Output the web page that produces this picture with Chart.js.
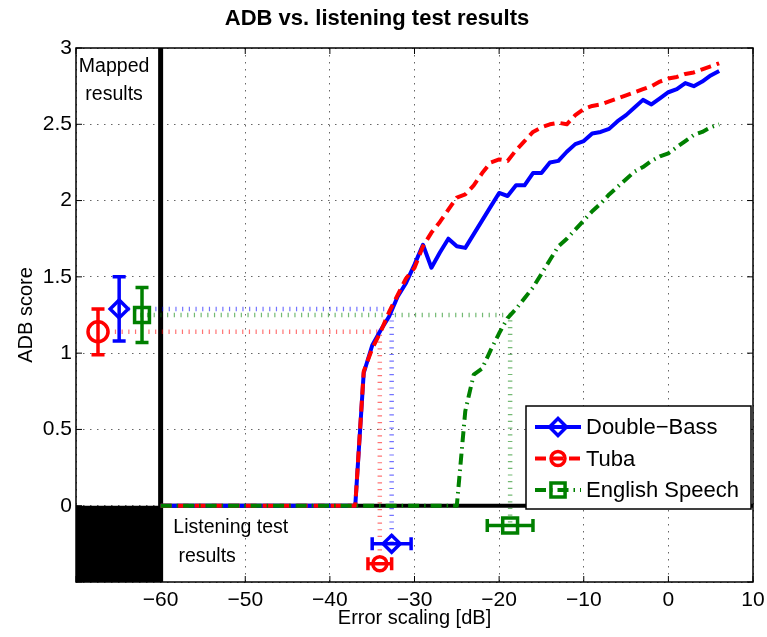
<!DOCTYPE html>
<html>
<head>
<meta charset="utf-8">
<script src="https://cdn.jsdelivr.net/npm/chart.js@4/dist/chart.umd.min.js"></script>
<style>
  body { margin: 0; background: #fff; }
  canvas { display: block; }
</style>
</head>
<body>
<canvas id="myChart" width="767" height="637"></canvas>
<script>
const FONT = '"Liberation Sans", Arial, Helvetica, sans-serif';

// error scaling grid (dB) for double-bass and tuba curves
const curveDb = [-60, -37, -36, -35, -34, -33, -32, -31, -30, -29, -28, -27, -26, -25, -24, -23, -22, -21, -20,
    -19, -18, -17, -16, -15, -14, -13, -12, -11, -10, -9, -8, -7, -6, -5, -4, -3, -2, -1, 0, 1, 2, 3, 4, 5, 6];
const doubleBass = [0, 0, 0.87, 1.05, 1.15, 1.24, 1.37, 1.46, 1.58, 1.71, 1.56, 1.66, 1.75, 1.70, 1.69, 1.78, 1.87, 1.96, 2.05,
    2.03, 2.10, 2.10, 2.18, 2.18, 2.25, 2.26, 2.32, 2.37, 2.39, 2.44, 2.45, 2.47, 2.52, 2.56, 2.61, 2.66, 2.63, 2.67, 2.71, 2.73, 2.77, 2.75, 2.78, 2.82, 2.85];
const tuba = [0, 0, 0.88, 1.03, 1.14, 1.27, 1.38, 1.49, 1.56, 1.70, 1.79, 1.86, 1.94, 2.02, 2.04, 2.10, 2.18, 2.25, 2.27,
    2.26, 2.33, 2.39, 2.45, 2.48, 2.50, 2.51, 2.50, 2.56, 2.60, 2.62, 2.63, 2.65, 2.67, 2.69, 2.71, 2.73, 2.75, 2.78, 2.80, 2.81, 2.83, 2.84, 2.86, 2.88, 2.90];

const speechDb = [-60, -25, -24, -23, -22, -21, -20, -19, -18, -17, -16, -15, -14, -13, -12, -11, -10, -9, -8, -7, -6, -5,
    -4, -3, -2, -1, 0, 1, 2, 3, 4, 5, 6];
const speech = [0, 0, 0.62, 0.86, 0.90, 1.02, 1.13, 1.23, 1.29, 1.36, 1.43, 1.52, 1.61, 1.70, 1.75, 1.81, 1.87, 1.93, 1.98, 2.04, 2.09, 2.14,
    2.19, 2.22, 2.26, 2.29, 2.31, 2.35, 2.39, 2.43, 2.45, 2.48, 2.50];

// order: Double-Bass, Tuba, English Speech
const seriesNames = ['Double\u2212Bass', 'Tuba', 'English Speech'];
const mappedX = [-64.9, -67.4, -62.2];
const mappedMean = [1.29, 1.14, 1.25];
const mappedErr = [0.21, 0.15, 0.18];
const listenX = [-32.7, -34.1, -18.7];
const listenErr = [2.3, 1.4, 2.7];
const listenY = [-0.25, -0.38, -0.13];
const connectFrom = [-63.8, -66.2, -63.2];

const xTicks = [-70, -60, -50, -40, -30, -20, -10, 0, 10];
const yTicks = [-0.5, 0, 0.5, 1, 1.5, 2, 2.5, 3];

const colors = ['#0000ff', '#ff0000', '#008000'];
const faded = ['rgba(0,0,255,0.55)', 'rgba(255,0,0,0.55)', 'rgba(0,128,0,0.55)'];
const dashes = [[], [11, 6], [11, 5, 1.5, 5]];
const markerStyle = ['rectRot', 'circle', 'rect'];
const mappedRadius = [9, 10, 10.5];
const listenRadius = [8.5, 7, 10.5];

const pts = (xs, ys) => xs.map((v, i) => ({ x: v, y: ys[i] }));

const datasets = [];
const curves = [doubleBass, tuba, speech];
const curveXs = [curveDb, curveDb, speechDb];

// markers on top
for (let i = 0; i < 3; i++) {
    datasets.push({
        data: [{ x: mappedX[i], y: mappedMean[i] }, { x: listenX[i], y: listenY[i] }],
        showLine: false,
        pointStyle: markerStyle[i],
        pointRadius: [mappedRadius[i], listenRadius[i]],
        borderColor: colors[i],
        backgroundColor: 'rgba(0,0,0,0)',
        pointBorderWidth: 3.5,
        order: 0
    });
}
for (let i = 0; i < 3; i++) {
    datasets.push({
        data: pts(curveXs[i], curves[i]),
        borderColor: colors[i],
        borderWidth: 4,
        borderDash: dashes[i],
        borderJoinStyle: 'round',
        pointRadius: 0,
        order: 3 - i
    });
}
for (let i = 0; i < 3; i++) {
    datasets.push({
        data: [{ x: connectFrom[i], y: mappedMean[i] }, { x: listenX[i], y: mappedMean[i] }, { x: listenX[i], y: listenY[i] }],
        borderColor: faded[i],
        borderWidth: 4.5,
        borderDash: [1.2, 5.5],
        pointRadius: 0,
        order: 4
    });
}
// black separators
datasets.push({ data: [{ x: -60, y: 0 }, { x: 10, y: 0 }], borderColor: '#000', borderWidth: 4, pointRadius: 0, order: 5 });
datasets.push({ data: [{ x: -60, y: -0.5 }, { x: -60, y: 3 }], borderColor: '#000', borderWidth: 5, pointRadius: 0, order: 5 });
datasets.push({ data: [{ x: -70, y: 0 }, { x: -60, y: 0 }], borderColor: '#000', borderWidth: 0, backgroundColor: '#000', fill: 'start', pointRadius: 0, order: 6 });

function marker(ctx, style, cx, cy, r) {
    ctx.beginPath();
    if (style === 'circle') {
        ctx.arc(cx, cy, r, 0, Math.PI * 2);
    } else if (style === 'rectRot') {
        ctx.moveTo(cx - r, cy); ctx.lineTo(cx, cy - r); ctx.lineTo(cx + r, cy); ctx.lineTo(cx, cy + r); ctx.closePath();
    } else {
        const h = r * Math.SQRT1_2;
        ctx.rect(cx - h, cy - h, 2 * h, 2 * h);
    }
    ctx.stroke();
}

const overlay = {
    id: 'overlay',
    afterDatasetsDraw(chart) {
        const { ctx, chartArea: a, scales: { x, y } } = chart;
        ctx.save();
        ctx.setLineDash([]);
        ctx.lineWidth = 3.5;
        // error bars
        for (let i = 0; i < 3; i++) {
            ctx.strokeStyle = colors[i];
            const px = x.getPixelForValue(mappedX[i]);
            const y1 = y.getPixelForValue(mappedMean[i] + mappedErr[i]);
            const y2 = y.getPixelForValue(mappedMean[i] - mappedErr[i]);
            ctx.beginPath();
            ctx.moveTo(px, y1); ctx.lineTo(px, y2);
            ctx.moveTo(px - 6.5, y1); ctx.lineTo(px + 6.5, y1);
            ctx.moveTo(px - 6.5, y2); ctx.lineTo(px + 6.5, y2);
            ctx.stroke();
            const py = y.getPixelForValue(listenY[i]);
            const x1 = x.getPixelForValue(listenX[i] - listenErr[i]);
            const x2 = x.getPixelForValue(listenX[i] + listenErr[i]);
            ctx.beginPath();
            ctx.moveTo(x1, py); ctx.lineTo(x2, py);
            ctx.moveTo(x1, py - 6.5); ctx.lineTo(x1, py + 6.5);
            ctx.moveTo(x2, py - 6.5); ctx.lineTo(x2, py + 6.5);
            ctx.stroke();
        }
        // axes box with inward ticks
        ctx.strokeStyle = '#000';
        ctx.lineWidth = 1.5;
        ctx.strokeRect(a.left, a.top, a.right - a.left, a.bottom - a.top);
        ctx.lineWidth = 1;
        ctx.beginPath();
        xTicks.forEach(v => {
            const px = x.getPixelForValue(v);
            ctx.moveTo(px, a.bottom); ctx.lineTo(px, a.bottom - 6);
            ctx.moveTo(px, a.top); ctx.lineTo(px, a.top + 6);
        });
        yTicks.forEach(v => {
            const py = y.getPixelForValue(v);
            ctx.moveTo(a.left, py); ctx.lineTo(a.left + 6, py);
            ctx.moveTo(a.right, py); ctx.lineTo(a.right - 6, py);
        });
        ctx.stroke();
        // annotations
        ctx.fillStyle = '#000';
        ctx.font = '19.5px ' + FONT;
        ctx.textBaseline = 'alphabetic';
        ctx.textAlign = 'center';
        ctx.fillText('Mapped', x.getPixelForValue(-65.5), y.getPixelForValue(2.84));
        ctx.fillText('results', x.getPixelForValue(-65.5), y.getPixelForValue(2.66));
        ctx.textAlign = 'left';
        ctx.fillText('Listening test', x.getPixelForValue(-58.5), y.getPixelForValue(-0.18));
        ctx.fillText('results', x.getPixelForValue(-57.9), y.getPixelForValue(-0.37));
        // legend
        const bx = a.right - 227, by = 406, bw = 225, bh = 103;
        ctx.fillStyle = '#fff';
        ctx.fillRect(bx, by, bw, bh);
        ctx.strokeStyle = '#000';
        ctx.lineWidth = 1.5;
        ctx.strokeRect(bx, by, bw, bh);
        ctx.font = '22px ' + FONT;
        ctx.textBaseline = 'middle';
        for (let i = 0; i < 3; i++) {
            const ly = by + 21 + i * 31.5;
            ctx.strokeStyle = colors[i];
            ctx.lineWidth = 4;
            ctx.setLineDash(dashes[i]);
            ctx.beginPath();
            ctx.moveTo(bx + 9, ly); ctx.lineTo(bx + 55, ly);
            ctx.stroke();
            ctx.setLineDash([]);
            ctx.lineWidth = 3.5;
            marker(ctx, markerStyle[i], bx + 32, ly, [8.5, 7, 10][i]);
            ctx.fillStyle = '#000';
            ctx.fillText(seriesNames[i], bx + 60, ly + 1);
        }
        ctx.restore();
    }
};

Chart.defaults.font.family = FONT;
Chart.defaults.color = '#000';

new Chart(document.getElementById('myChart'), {
    type: 'line',
    data: { datasets },
    options: {
        responsive: false,
        animation: false,
        layout: { padding: { left: 0, right: 13, top: 0, bottom: 0 } },
        plugins: {
            legend: { display: false },
            tooltip: { enabled: false },
            title: {
                display: true,
                text: 'ADB vs. listening test results',
                font: { size: 22, weight: 'bold' },
                color: '#000',
                padding: { top: 6, bottom: 15.6 }
            }
        },
        scales: {
            x: {
                type: 'linear',
                min: -70,
                max: 10,
                afterBuildTicks: s => { s.ticks = xTicks.map(v => ({ value: v })); },
                ticks: {
                    font: { size: 21 },
                    color: '#000',
                    padding: 6,
                    maxRotation: 0,
                    autoSkip: false,
                    callback: v => v === -70 ? '' : (v < 0 ? '\u2212' + Math.abs(v) : String(v))
                },
                grid: { color: 'rgba(0,0,0,0.6)', lineWidth: 1, drawTicks: false },
                border: { display: false, dash: [1.5, 5.5] },
                title: { display: true, text: 'Error scaling [dB]', font: { size: 20 }, color: '#000', padding: { top: 0, bottom: 7 } },
                afterFit: s => { s.height = 55; s.paddingLeft = 0; s.paddingRight = 0; }
            },
            y: {
                min: -0.5,
                max: 3,
                afterBuildTicks: s => { s.ticks = yTicks.map(v => ({ value: v })); },
                ticks: {
                    font: { size: 21 },
                    color: '#000',
                    padding: 4,
                    callback: v => v === -0.5 ? '' : String(v)
                },
                grid: { color: 'rgba(0,0,0,0.6)', lineWidth: 1, drawTicks: false },
                border: { display: false, dash: [1.5, 5.5] },
                title: { display: true, text: 'ADB score', font: { size: 20 }, color: '#000', padding: { top: 14, bottom: 0 } },
                afterFit: s => { s.width = 76; }
            }
        }
    },
    plugins: [overlay]
});
</script>
</body>
</html>
